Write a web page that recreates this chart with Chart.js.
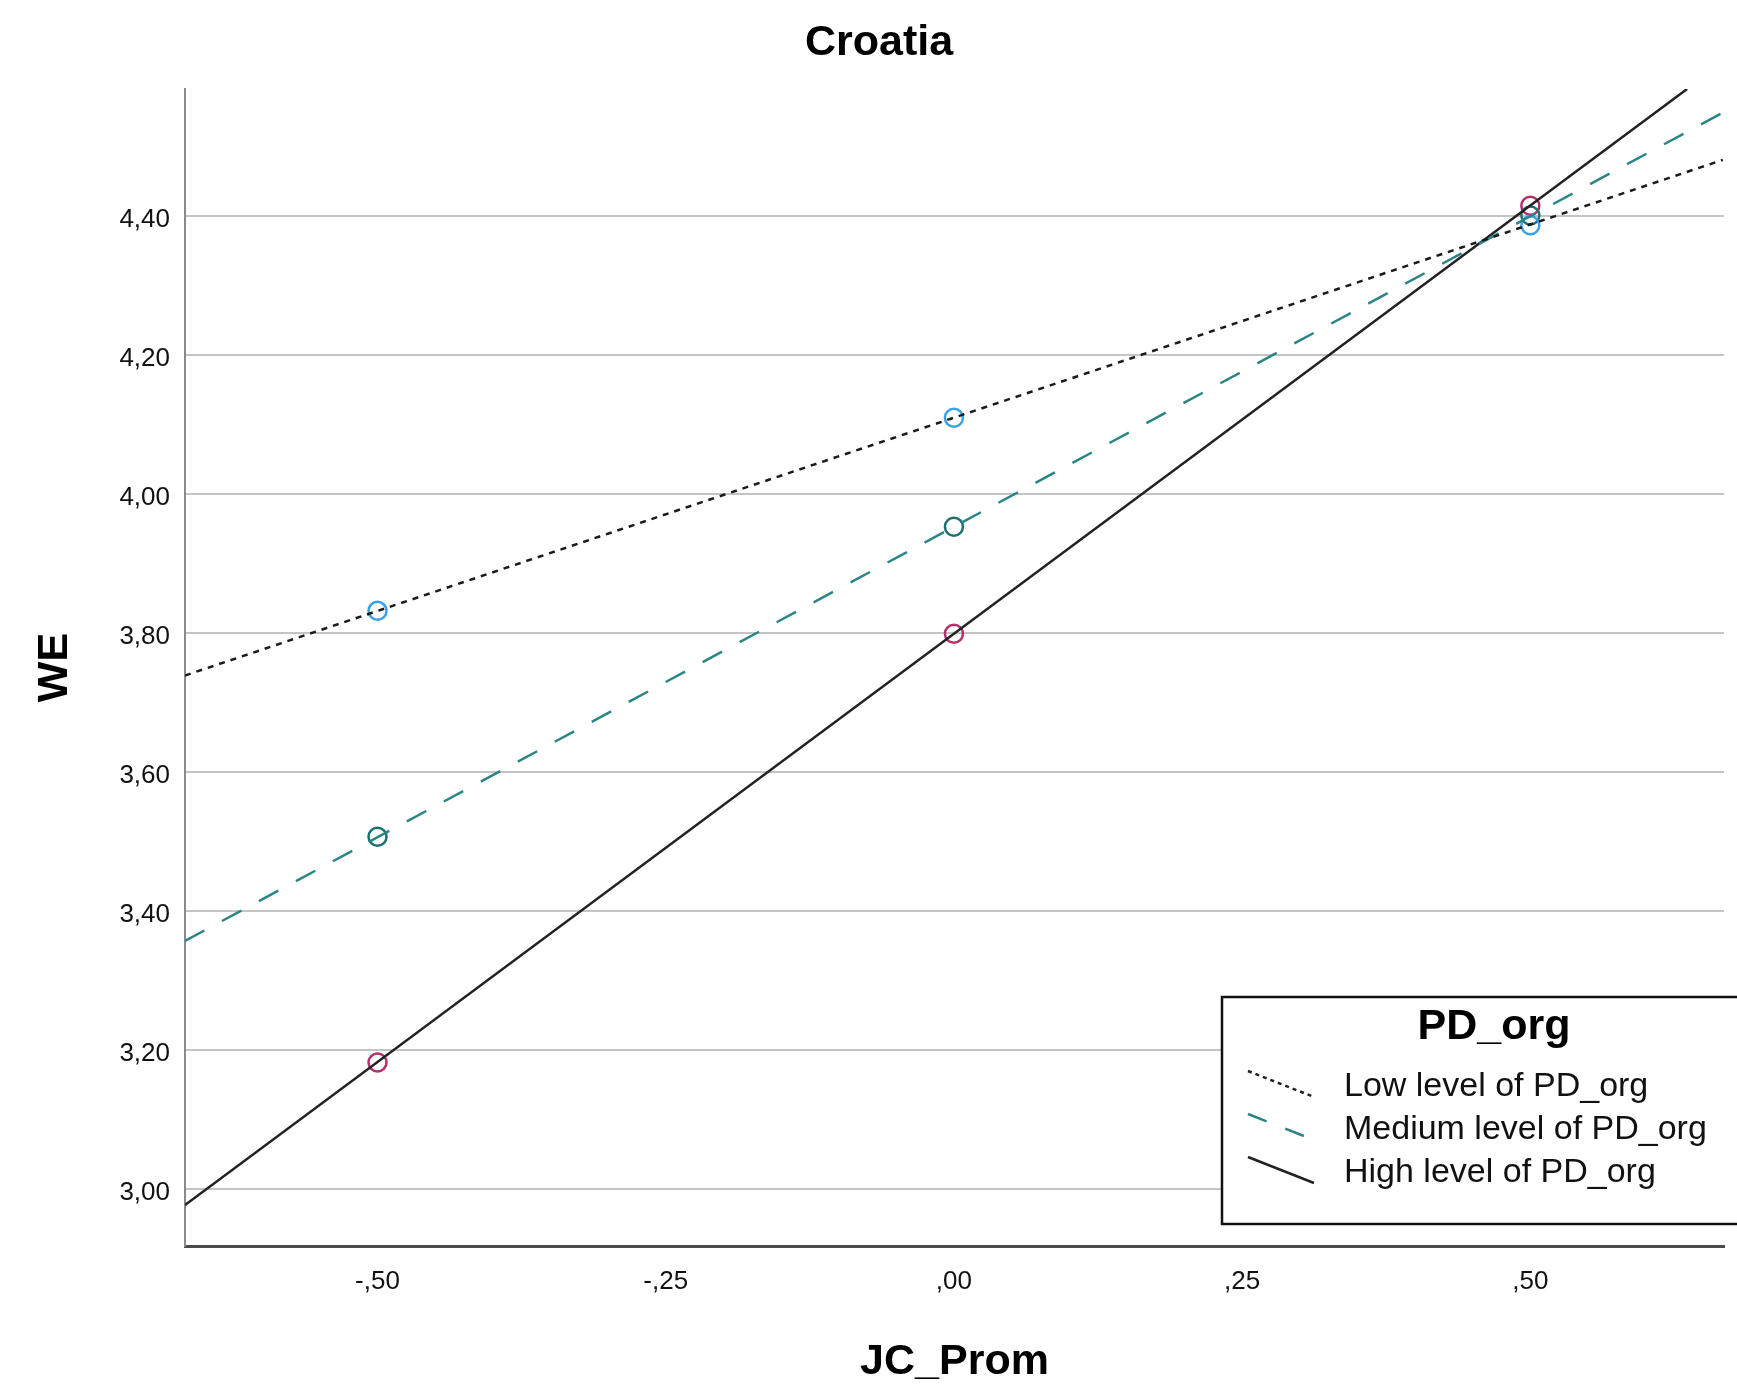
<!DOCTYPE html>
<html>
<head>
<meta charset="utf-8">
<title>Croatia</title>
<script src="https://cdn.jsdelivr.net/npm/chart.js@4.4.1/dist/chart.umd.min.js"></script>
<style>
  html, body { margin: 0; padding: 0; background: #fff; }
  #wrap { width: 1737px; height: 1384px; position: relative; }
</style>
</head>
<body>
<div id="wrap"><canvas id="grafico"></canvas></div>
<script>
// Valores (JC_Prom x WE, por nivel de PD_org)
const xPoints = [-0.5, 0, 0.5];
const lowValues = [3.832, 4.110, 4.387];
const mediumValues = [3.507, 3.953, 4.401];
const highValues = [3.182, 3.799, 4.415];

const lowLineX = [-0.667, 0.667];
const lowLineY = [3.739, 4.481];
const mediumLineX = [-0.667, 0.667];
const mediumLineY = [3.357, 4.549];
const highLineX = [-0.667, 0.636];
const highLineY = [2.977, 4.583];

const seriesNames = ['Low level of PD_org', 'Medium level of PD_org', 'High level of PD_org'];

const xTickValues = [-0.5, -0.25, 0, 0.25, 0.5];
const xTickLabels = ['-,50', '-,25', ',00', ',25', ',50'];
const yTickValues = [3.0, 3.2, 3.4, 3.6, 3.8, 4.0, 4.2, 4.4];
const yTickLabels = ['3,00', '3,20', '3,40', '3,60', '3,80', '4,00', '4,20', '4,40'];

const FONT = "'Liberation Sans', Arial, sans-serif";

const toPoints = (xs, ys) => xs.map((x, i) => ({ x: x, y: ys[i] }));

// Leyenda tipo SPSS dibujada a mano
const legendBox = {
    id: 'legendBox',
    afterDatasetsDraw(chart) {
        const ctx = chart.ctx;
        const left = 1222, top = 997, bottom = 1224;
        ctx.save();
        ctx.fillStyle = '#fff';
        ctx.fillRect(left, top, chart.width - left + 5, bottom - top);
        ctx.strokeStyle = '#111';
        ctx.lineWidth = 2.5;
        ctx.strokeRect(left, top, chart.width - left + 5, bottom - top);

        ctx.fillStyle = '#000';
        ctx.textBaseline = 'middle';
        ctx.textAlign = 'center';
        ctx.font = 'bold 43px ' + FONT;
        ctx.fillText('PD_org', 1494, 1027);

        const styles = [
            { color: '#222', dash: [4, 4] },
            { color: '#2a8585', dash: [20, 20] },
            { color: '#222', dash: [] }
        ];
        const rows = [1087, 1130, 1173];
        ctx.textAlign = 'left';
        ctx.font = '34px ' + FONT;
        rows.forEach((y, i) => {
            ctx.beginPath();
            ctx.setLineDash(styles[i].dash);
            ctx.strokeStyle = styles[i].color;
            ctx.lineWidth = 2.5;
            ctx.moveTo(1248, y - 16);
            ctx.lineTo(1314, y + 10);
            ctx.stroke();
            ctx.setLineDash([]);
            ctx.fillStyle = '#111';
            ctx.fillText(seriesNames[i], 1344, y);
        });
        ctx.restore();
    }
};

const ctx = document.getElementById('grafico').getContext('2d');

new Chart(ctx, {
    type: 'scatter',
    data: {
        datasets: [
            {
                label: seriesNames[0] + ' (recta)',
                data: toPoints(lowLineX, lowLineY),
                showLine: true,
                borderColor: '#1a1a1a',
                borderWidth: 2.5,
                borderDash: [6, 6],
                pointRadius: 0
            },
            {
                label: seriesNames[1] + ' (recta)',
                data: toPoints(mediumLineX, mediumLineY),
                showLine: true,
                borderColor: '#2a8585',
                borderWidth: 2.5,
                borderDash: [22, 20],
                pointRadius: 0
            },
            {
                label: seriesNames[2] + ' (recta)',
                data: toPoints(highLineX, highLineY),
                showLine: true,
                borderColor: '#222',
                borderWidth: 2.5,
                pointRadius: 0
            },
            {
                label: seriesNames[0],
                data: toPoints(xPoints, lowValues),
                pointStyle: 'circle',
                pointRadius: 9,
                pointBorderWidth: 2.5,
                borderColor: '#3aa0e8',
                backgroundColor: 'rgba(0,0,0,0)'
            },
            {
                label: seriesNames[1],
                data: toPoints(xPoints, mediumValues),
                pointStyle: 'circle',
                pointRadius: 9,
                pointBorderWidth: 2.5,
                borderColor: '#1e7070',
                backgroundColor: 'rgba(0,0,0,0)'
            },
            {
                label: seriesNames[2],
                data: toPoints(xPoints, highValues),
                pointStyle: 'circle',
                pointRadius: 9,
                pointBorderWidth: 2.5,
                borderColor: '#b5306b',
                backgroundColor: 'rgba(0,0,0,0)'
            }
        ]
    },
    options: {
        responsive: true,
        maintainAspectRatio: false,
        animation: false,
        layout: { padding: { top: 0, right: 13, bottom: 0, left: 34 } },
        plugins: {
            legend: { display: false },
            tooltip: { enabled: false },
            title: {
                display: true,
                text: 'Croatia',
                color: '#000',
                font: { family: FONT, size: 43, weight: 'bold', lineHeight: 1.2 },
                padding: { top: 17.5, bottom: 19.9 }
            }
        },
        scales: {
            x: {
                type: 'linear',
                min: -0.667,
                max: 0.668,
                afterBuildTicks: scale => { scale.ticks = xTickValues.map(v => ({ value: v })); },
                afterFit: scale => { scale.height = 138; },
                grid: { display: false, drawTicks: false },
                border: { display: true, color: '#4a4a4a', width: 3 },
                ticks: {
                    padding: 20,
                    color: '#111',
                    font: { family: FONT, size: 26 },
                    callback: (value) => xTickLabels[xTickValues.indexOf(value)]
                },
                title: {
                    display: true,
                    text: 'JC_Prom',
                    color: '#000',
                    font: { family: FONT, size: 43, weight: 'bold', lineHeight: 1 },
                    padding: { top: 0, bottom: 0 }
                }
            },
            y: {
                type: 'linear',
                min: 2.918,
                max: 4.583,
                afterBuildTicks: scale => { scale.ticks = yTickValues.map(v => ({ value: v })); },
                afterFit: scale => { scale.width = 151; },
                grid: { color: '#c4c4c4', lineWidth: 2, drawTicks: false },
                border: { display: true, color: '#8a8a8a', width: 2 },
                ticks: {
                    padding: 15,
                    labelOffset: 4,
                    color: '#111',
                    font: { family: FONT, size: 26 },
                    callback: (value) => yTickLabels[yTickValues.indexOf(value)]
                },
                title: {
                    display: true,
                    text: 'WE',
                    color: '#000',
                    font: { family: FONT, size: 43, weight: 'bold', lineHeight: 1 },
                    padding: { top: 0, bottom: 0 }
                }
            }
        }
    },
    plugins: [legendBox]
});
</script>
</body>
</html>
